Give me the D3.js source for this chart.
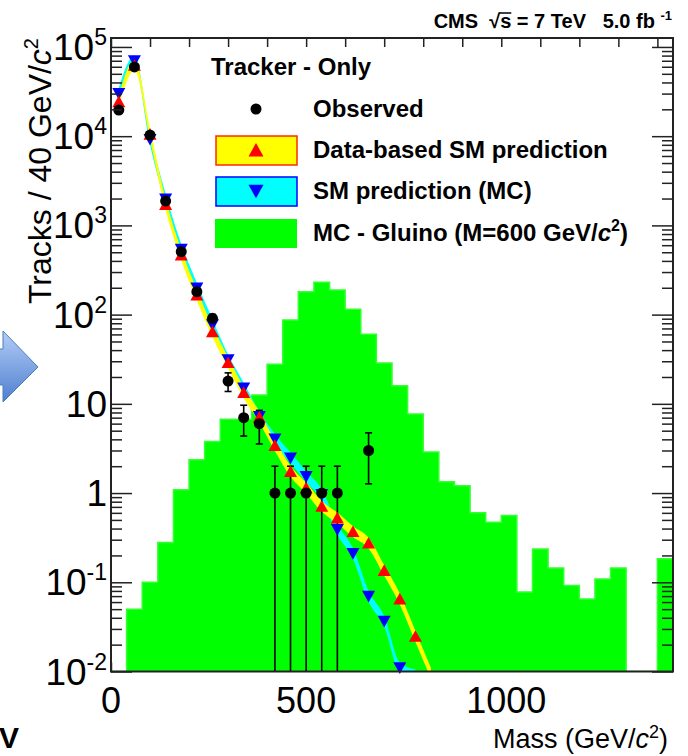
<!DOCTYPE html>
<html>
<head>
<meta charset="utf-8">
<script src="https://cdn.jsdelivr.net/npm/d3@7"></script>
<style>
body { margin: 0; background: #fff; }
text { font-family: "Liberation Sans", Arial, sans-serif; white-space: pre; }
</style>
</head>
<body>
<div id="chart"></div>
<script>
// data, 40 GeV bins starting at 0
var binWidth = 40;
var gluino = [0, 0.05, 0.1, 0.28, 1.09, 2.36, 3.78, 6.7, 6.7, 12.6, 27.8, 87, 181, 231, 189, 115,
              60.3, 28.6, 15.9, 7.67, 2.88, 1.34, 1.21, 0.60, 0.47, 0.56, 0.078, 0.236, 0.145,
              0.092, 0.065, 0.109, 0.145, 0, 0, 0.184];
var observed = [19600, 59800, 10300, 1876, 508, 181, 91, 18, 7, 6, 1, 1, 1, 1, 1, 0, 3];
var dataPred = [24300, 62500, 10500, 1720, 466, 166, 64.5, 29, 13.4, 7.1, 3.41, 1.75, 1.14,
                0.71, 0.525, 0.37, 0.275, 0.136, 0.065, 0.0248, 0.0095];
var mcPred = [30100, 69800, 9200, 1970, 540, 198, 76.7, 31.1, 15, 7.2, 4.02, 2.47, 1.53,
              0.96, 0.39, 0.21, 0.0695, 0.0365, 0.011, 0.0092];
var bandFactor = 1.15;
var xTickLabels = [0, 500, 1000];
var yTickLabels = [-2, -1, 0, 1, 2, 3, 4, 5];
var legendItems = ["Observed", "Data-based SM prediction", "SM prediction (MC)", "MC - Gluino (M=600 GeV/"];

function init() {
    var w = 688, h = 756;
    var left = 111, right = 673, top = 38, bottom = 671.5;

    var svg = d3.select("#chart").append("svg")
        .attr("width", w)
        .attr("height", h);

    svg.append("rect").attr("width", w).attr("height", h).attr("fill", "#fff");

    var xScale = d3.scaleLinear().domain([0, 1440]).range([left, right]);
    var yScale = d3.scaleLog().domain([0.01, 1.26e5]).range([bottom, top]);
    var yMin = 0.01;

    function center(i) { return xScale(binWidth * (i + 0.5)); }

    svg.append("defs").append("clipPath").attr("id", "frame")
        .append("rect")
        .attr("x", left).attr("y", top)
        .attr("width", right - left).attr("height", bottom - top);

    // bottom x ticks (covered by the histogram as in the original)
    var xMinor = d3.range(0, 1441, 100);
    svg.append("g")
        .attr("transform", "translate(0," + bottom + ")")
        .call(d3.axisBottom(xScale).tickValues(xMinor).tickSize(-9).tickFormat(""))
        .call(function(g) { g.select(".domain").remove(); g.selectAll("line").attr("stroke", "#222").attr("stroke-width", 1.5); });

    // gluino histogram
    var histPts = gluino.map(function(v, i) { return {m: i * binWidth, v: v}; });
    histPts.push({m: gluino.length * binWidth, v: gluino[gluino.length - 1]});

    var histArea = d3.area()
        .curve(d3.curveStepAfter)
        .x(function(d) { return xScale(d.m); })
        .y0(yScale(yMin))
        .y1(function(d) { return yScale(Math.max(d.v, yMin)); });

    var plot = svg.append("g").attr("clip-path", "url(#frame)");

    plot.append("path")
        .datum(histPts)
        .attr("d", histArea)
        .attr("fill", "#00ff00")
        .attr("stroke", "#33ff33")
        .attr("stroke-width", 1.5);

    // prediction bands
    function band(vals) {
        return d3.area()
            .curve(d3.curveMonotoneX)
            .x(function(d, i) { return center(i); })
            .y0(function(d) { return yScale(d / bandFactor); })
            .y1(function(d) { return yScale(d * bandFactor); })(vals);
    }

    plot.append("path").attr("d", band(mcPred)).attr("fill", "#00ffff");
    plot.append("path").attr("d", band(dataPred)).attr("fill", "#ffff00");

    function triUp(cx, cy, s) {
        return "M" + (cx - s) + "," + (cy + s * 0.85) + "L" + (cx + s) + "," + (cy + s * 0.85) + "L" + cx + "," + (cy - s * 0.95) + "Z";
    }
    function triDown(cx, cy, s) {
        return "M" + (cx - s) + "," + (cy - s * 0.85) + "L" + (cx + s) + "," + (cy - s * 0.85) + "L" + cx + "," + (cy + s * 0.95) + "Z";
    }

    // MC markers
    svg.append("g").selectAll("path")
        .data(mcPred.map(function(v, i) { return {v: v, i: i}; }).filter(function(d) { return d.v >= yMin; }))
        .enter().append("path")
        .attr("d", function(d) { return triDown(center(d.i), yScale(d.v), 6.5); })
        .attr("fill", "#0000ff");

    // data-based markers
    svg.append("g").selectAll("path")
        .data(dataPred.map(function(v, i) { return {v: v, i: i}; }).filter(function(d) { return d.v >= yMin; }))
        .enter().append("path")
        .attr("d", function(d) { return triUp(center(d.i), yScale(d.v), 6.5); })
        .attr("fill", "#ff0000");

    // observed with sqrt(N) errors
    var obs = observed.map(function(v, i) { return {v: v, i: i}; }).filter(function(d) { return d.v > 0; });
    var errG = plot.append("g").attr("stroke", "#000").attr("stroke-width", 1.6);
    obs.forEach(function(d) {
        var cx = center(d.i);
        var lo = d.v - Math.sqrt(d.v), hi = d.v + Math.sqrt(d.v);
        var yLo = lo > yMin ? yScale(lo) : bottom + 2;
        errG.append("line").attr("x1", cx).attr("x2", cx).attr("y1", yScale(hi)).attr("y2", yLo);
        errG.append("line").attr("x1", cx - 3.5).attr("x2", cx + 3.5).attr("y1", yScale(hi)).attr("y2", yScale(hi));
        if (lo > yMin) {
            errG.append("line").attr("x1", cx - 3.5).attr("x2", cx + 3.5).attr("y1", yLo).attr("y2", yLo);
        }
    });
    svg.append("g").selectAll("circle")
        .data(obs)
        .enter().append("circle")
        .attr("cx", function(d) { return center(d.i); })
        .attr("cy", function(d) { return yScale(d.v); })
        .attr("r", 5.5)
        .attr("fill", "#000");

    // frame and ticks
    var yAll = [];
    for (var e = -2; e <= 5; e++) {
        for (var k = 1; k <= 9; k++) {
            var v = k * Math.pow(10, e);
            if (v <= 1.26e5) yAll.push(v);
        }
    }
    var yMajor = yAll.filter(function(v, i) { return i % 9 === 0; });
    var yMinor = yAll.filter(function(v, i) { return i % 9 !== 0; });

    function styleAxis(g) {
        g.select(".domain").remove();
        g.selectAll("line").attr("stroke", "#222").attr("stroke-width", 1.5);
    }

    svg.append("g").attr("transform", "translate(" + left + ",0)")
        .call(d3.axisLeft(yScale).tickValues(yMajor).tickSize(-21).tickFormat("")).call(styleAxis);
    svg.append("g").attr("transform", "translate(" + left + ",0)")
        .call(d3.axisLeft(yScale).tickValues(yMinor).tickSize(-11).tickFormat("")).call(styleAxis);
    svg.append("g").attr("transform", "translate(" + right + ",0)")
        .call(d3.axisRight(yScale).tickValues(yMajor).tickSize(-21).tickFormat("")).call(styleAxis);
    svg.append("g").attr("transform", "translate(" + right + ",0)")
        .call(d3.axisRight(yScale).tickValues(yMinor).tickSize(-11).tickFormat("")).call(styleAxis);
    svg.append("g").attr("transform", "translate(0," + top + ")")
        .call(d3.axisTop(xScale).tickValues(xMinor).tickSize(-9).tickFormat("")).call(styleAxis);

    svg.append("rect")
        .attr("x", left).attr("y", top)
        .attr("width", right - left).attr("height", bottom - top)
        .attr("fill", "none")
        .attr("stroke", "#222")
        .attr("stroke-width", 2);

    // axis labels
    xTickLabels.forEach(function(t) {
        svg.append("text")
            .attr("x", xScale(t) + (t === 1000 ? 5 : 0)).attr("y", 713)
            .attr("text-anchor", "middle")
            .attr("font-size", 36)
            .text(t);
    });

    yTickLabels.forEach(function(p) {
        var t = svg.append("text")
            .attr("x", 107).attr("y", yScale(Math.pow(10, p)) + 13)
            .attr("text-anchor", "end")
            .attr("font-size", 37);
        if (p === 0) {
            t.text("1");
        } else if (p === 1) {
            t.text("10");
        } else {
            t.append("tspan").text("10");
            t.append("tspan").attr("font-size", 23).attr("dy", -15).text(p);
        }
    });

    var ylab = svg.append("text")
        .attr("transform", "translate(51,38) rotate(-90)")
        .attr("text-anchor", "end")
        .attr("font-size", 32);
    ylab.append("tspan").text("Tracks / 40 GeV/");
    ylab.append("tspan").attr("font-style", "italic").text("c");
    ylab.append("tspan").attr("font-size", 20).attr("dy", -13).text("2");

    var xlab = svg.append("text")
        .attr("x", 668).attr("y", 748)
        .attr("text-anchor", "end")
        .attr("font-size", 27);
    xlab.append("tspan").text("Mass (GeV/");
    xlab.append("tspan").attr("font-style", "italic").text("c");
    xlab.append("tspan").attr("font-size", 18).attr("dy", -10).text("2");
    xlab.append("tspan").attr("dy", 10).text(")");

    // header
    var head = svg.append("text")
        .attr("x", 672).attr("y", 28)
        .attr("text-anchor", "end")
        .attr("font-size", 20)
        .attr("font-weight", "bold");
    head.append("tspan").text("CMS  \u221As = 7 TeV   5.0 fb ");
    head.append("tspan").attr("font-size", 13).attr("dy", -8).text("-1");
    var sExt = head.node().getExtentOfChar(6);
    svg.append("line")
        .attr("x1", sExt.x - 1).attr("x2", sExt.x + sExt.width)
        .attr("y1", sExt.y + 3).attr("y2", sExt.y + 3)
        .attr("stroke", "#000").attr("stroke-width", 1.5);

    // legend
    svg.append("text").attr("x", 211).attr("y", 75)
        .attr("font-size", 24).attr("font-weight", "bold").text("Tracker - Only");

    var legY = [109, 150, 191, 233];
    svg.append("circle").attr("cx", 256).attr("cy", legY[0]).attr("r", 5.5).attr("fill", "#000");
    svg.append("rect").attr("x", 216).attr("y", legY[1] - 14).attr("width", 81).attr("height", 29)
        .attr("fill", "#ffff00").attr("stroke", "#ff2a00").attr("stroke-width", 1.5);
    svg.append("path").attr("d", triUp(256, legY[1], 7.5)).attr("fill", "#ff0000");
    svg.append("rect").attr("x", 216).attr("y", legY[2] - 14).attr("width", 81).attr("height", 29)
        .attr("fill", "#00ffff").attr("stroke", "#0000ff").attr("stroke-width", 1.5);
    svg.append("path").attr("d", triDown(256, legY[2], 7.5)).attr("fill", "#0000ff");
    svg.append("rect").attr("x", 215).attr("y", legY[3] - 14).attr("width", 82).attr("height", 29)
        .attr("fill", "#00ff00");

    legendItems.forEach(function(s, i) {
        var t = svg.append("text").attr("x", 313).attr("y", legY[i] + 8)
            .attr("font-size", 24).attr("font-weight", "bold").text(s);
        if (i === 3) {
            t.append("tspan").attr("font-style", "italic").text("c");
            t.append("tspan").attr("font-size", 16).attr("dy", -10).text("2");
            t.append("tspan").attr("dy", 10).text(")");
        }
    });

    // slide leftovers: arrow and cut text
    var grad = svg.select("defs").append("linearGradient").attr("id", "arrowGrad")
        .attr("x1", 0).attr("y1", 0).attr("x2", 0).attr("y2", 1);
    grad.append("stop").attr("offset", "0%").attr("stop-color", "#b3cdf7");
    grad.append("stop").attr("offset", "100%").attr("stop-color", "#4f7fcf");
    svg.append("path")
        .attr("d", "M-2,349L3,349L3,331L38,367L3,402L3,385L-2,385Z")
        .attr("fill", "url(#arrowGrad)")
        .attr("stroke", "#4a7ebb")
        .attr("stroke-width", 1);

    svg.append("text").attr("x", -1).attr("y", 748)
        .attr("font-size", 30).attr("font-weight", "bold").text("V");
}
window.onload = init;
</script>
</body>
</html>
